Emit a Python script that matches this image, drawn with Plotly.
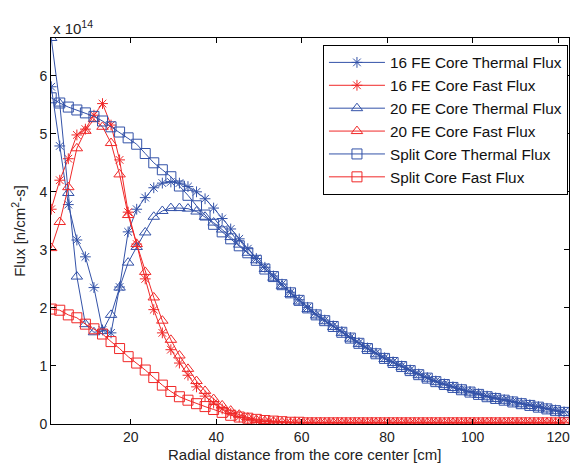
import plotly.graph_objects as go

# radial positions [cm]
x = [1.4, 3.4, 5.4, 7.4, 9.4, 11.4, 13.4, 15.4, 17.4, 19.4,
     21.4, 23.4, 25.4, 27.4, 29.4, 31.4, 33.4, 35.4, 37.4, 39.4,
     41.4, 43.4, 45.4, 47.4, 49.4, 51.4, 53.4, 55.4, 57.4, 59.4,
     61.4, 63.4, 65.4, 67.4, 69.4, 71.4, 73.4, 75.4, 77.4, 79.4,
     81.4, 83.4, 85.4, 87.4, 89.4, 91.4, 93.4, 95.4, 97.4, 99.4,
     101.4, 103.4, 105.4, 107.4, 109.4, 111.4, 113.4, 115.4, 117.4, 119.4,
     121.4]

# flux values in units of 1e14 n/cm^2-s
thermal16 = [5.81, 4.79, 3.78, 3.17, 2.88, 2.35, 1.62, 1.57, 2.36, 3.31,
             3.70, 3.90, 4.07, 4.15, 4.17, 4.15, 4.09, 4.00, 3.88, 3.72,
             3.54, 3.36, 3.19, 3.02, 2.85, 2.70, 2.55, 2.41, 2.27, 2.14,
             2.01, 1.89, 1.79, 1.69, 1.59, 1.49, 1.40, 1.31, 1.22, 1.14,
             1.07, 1.00, 0.93, 0.86, 0.80, 0.74, 0.69, 0.64, 0.60, 0.56,
             0.52, 0.48, 0.45, 0.42, 0.39, 0.36, 0.33, 0.30, 0.27, 0.24,
             0.21]
fast16 = [3.70, 4.20, 4.57, 4.98, 5.08, 5.32, 5.52, 5.15, 4.55, 3.65,
          3.10, 2.50, 1.97, 1.57, 1.28, 1.05, 0.84, 0.64, 0.48, 0.36,
          0.26, 0.18, 0.12, 0.08, 0.05, 0.04, 0.03, 0.02, 0.02, 0.02,
          0.02, 0.02, 0.02, 0.02, 0.02, 0.02, 0.02, 0.02, 0.02, 0.02,
          0.02, 0.02, 0.02, 0.02, 0.02, 0.02, 0.02, 0.02, 0.02, 0.02,
          0.02, 0.02, 0.02, 0.02, 0.02, 0.02, 0.02, 0.02, 0.02, 0.02,
          0.02]
thermal20 = [6.65, 5.52, 3.98, 2.54, 1.72, 1.58, 1.60, 1.88, 2.35, 2.78,
             3.05, 3.30, 3.57, 3.67, 3.72, 3.72, 3.71, 3.66, 3.57, 3.47,
             3.35, 3.22, 3.09, 2.95, 2.82, 2.67, 2.52, 2.38, 2.24, 2.11,
             1.98, 1.87, 1.77, 1.67, 1.57, 1.47, 1.38, 1.29, 1.20, 1.12,
             1.05, 0.98, 0.91, 0.84, 0.78, 0.72, 0.67, 0.62, 0.58, 0.54,
             0.50, 0.46, 0.43, 0.40, 0.37, 0.34, 0.31, 0.28, 0.25, 0.22,
             0.19]
fast20 = [3.03, 3.48, 4.08, 4.75, 5.05, 5.25, 5.12, 4.84, 4.30, 3.60,
          3.10, 2.62, 2.18, 1.78, 1.45, 1.18, 0.95, 0.74, 0.57, 0.43,
          0.32, 0.23, 0.16, 0.11, 0.07, 0.05, 0.04, 0.03, 0.02, 0.02,
          0.02, 0.02, 0.02, 0.02, 0.02, 0.02, 0.02, 0.02, 0.02, 0.02,
          0.02, 0.02, 0.02, 0.02, 0.02, 0.02, 0.02, 0.02, 0.02, 0.02,
          0.02, 0.02, 0.02, 0.02, 0.02, 0.02, 0.02, 0.02, 0.02, 0.02,
          0.02]
thermalSplit = [5.62, 5.53, 5.46, 5.41, 5.36, 5.30, 5.22, 5.12, 5.03, 4.93,
                4.82, 4.66, 4.50, 4.38, 4.26, 4.10, 3.94, 3.76, 3.60, 3.44,
                3.31, 3.19, 3.07, 2.95, 2.82, 2.67, 2.54, 2.40, 2.26, 2.13,
                2.00, 1.88, 1.78, 1.68, 1.58, 1.48, 1.39, 1.30, 1.21, 1.13,
                1.06, 0.99, 0.92, 0.85, 0.79, 0.73, 0.68, 0.63, 0.59, 0.55,
                0.51, 0.47, 0.44, 0.41, 0.38, 0.35, 0.32, 0.29, 0.26, 0.23,
                0.20]
fastSplit = [1.98, 1.96, 1.88, 1.83, 1.72, 1.64, 1.55, 1.42, 1.30, 1.16,
             1.05, 0.93, 0.80, 0.67, 0.56, 0.47, 0.41, 0.35, 0.30, 0.25,
             0.20, 0.15, 0.12, 0.10, 0.08, 0.06, 0.05, 0.04, 0.03, 0.03,
             0.02, 0.02, 0.02, 0.02, 0.02, 0.02, 0.02, 0.02, 0.02, 0.02,
             0.02, 0.02, 0.02, 0.02, 0.02, 0.02, 0.02, 0.02, 0.02, 0.02,
             0.02, 0.02, 0.02, 0.02, 0.02, 0.02, 0.02, 0.02, 0.02, 0.02,
             0.02]

names = ["16 FE Core Thermal Flux", "16 FE Core Fast Flux",
         "20 FE Core Thermal Flux", "20 FE Core Fast Flux",
         "Split Core Thermal Flux", "Split Core Fast Flux"]
series = [thermal16, fast16, thermal20, fast20, thermalSplit, fastSplit]

BLUE = "#3352a8"
RED = "#f02828"
colors = [BLUE, RED, BLUE, RED, BLUE, RED]
symbols = ["asterisk-open", "asterisk-open", "triangle-up-open",
           "triangle-up-open", "square-open", "square-open"]
sizes = [9, 9, 10, 10, 10, 10]

fig = go.Figure()
for nm, ys, c, s, sz in zip(names, series, colors, symbols, sizes):
    fig.add_trace(go.Scatter(
        x=x, y=ys, name=nm, mode="lines+markers",
        line=dict(color=c, width=1),
        marker=dict(symbol=s, size=sz, color=c, line=dict(color=c, width=1)),
    ))

FONT = "Liberation Sans, Arial, sans-serif"
fig.update_layout(
    width=572, height=464,
    margin=dict(l=51, r=3, t=38, b=40),
    paper_bgcolor="white", plot_bgcolor="white",
    font=dict(family=FONT, size=15, color="#222"),
    showlegend=True,
    legend=dict(x=0.998, y=0.982, xanchor="right", yanchor="top",
                bgcolor="white", bordercolor="black", borderwidth=1,
                font=dict(size=15.3, color="#111"), tracegroupgap=0,
                itemwidth=56),
    xaxis=dict(range=[1.35, 122.56], tickvals=[20, 40, 60, 80, 100, 120],
               ticks="inside", ticklen=5, tickcolor="black",
               showline=True, linecolor="black", linewidth=1, mirror="ticks",
               showgrid=False, zeroline=False, ticklabeloverflow="allow",
               tickfont=dict(size=14, color="#222")),
    yaxis=dict(range=[0, 6.65], tickvals=[0, 1, 2, 3, 4, 5, 6],
               ticks="inside", ticklen=5, tickcolor="black",
               showline=True, linecolor="black", linewidth=1, mirror="ticks",
               showgrid=False, zeroline=False,
               tickfont=dict(size=14, color="#222")),
)

fig.add_annotation(text="x 10<sup>14</sup>", xref="paper", yref="paper",
                   x=0.0, y=1.0, xanchor="left", yanchor="bottom",
                   yshift=-1, showarrow=False, font=dict(size=15, color="#222"))
fig.add_annotation(text="Flux [n/cm<sup>2</sup>-s]", xref="paper", yref="paper",
                   x=-0.064, y=0.5, xanchor="center", yanchor="middle",
                   textangle=-90, showarrow=False,
                   font=dict(size=15, color="#222"))
fig.add_annotation(text="Radial distance from the core center [cm]",
                   xref="paper", yref="paper", x=0.49, y=-0.078,
                   xanchor="center", yanchor="middle", showarrow=False,
                   font=dict(size=15, color="#222"))

fig.write_html(
    "out.html",
    config={"displayModeBar": False},
    post_script="document.body.style.margin='0';document.body.style.overflow='hidden';",
)
